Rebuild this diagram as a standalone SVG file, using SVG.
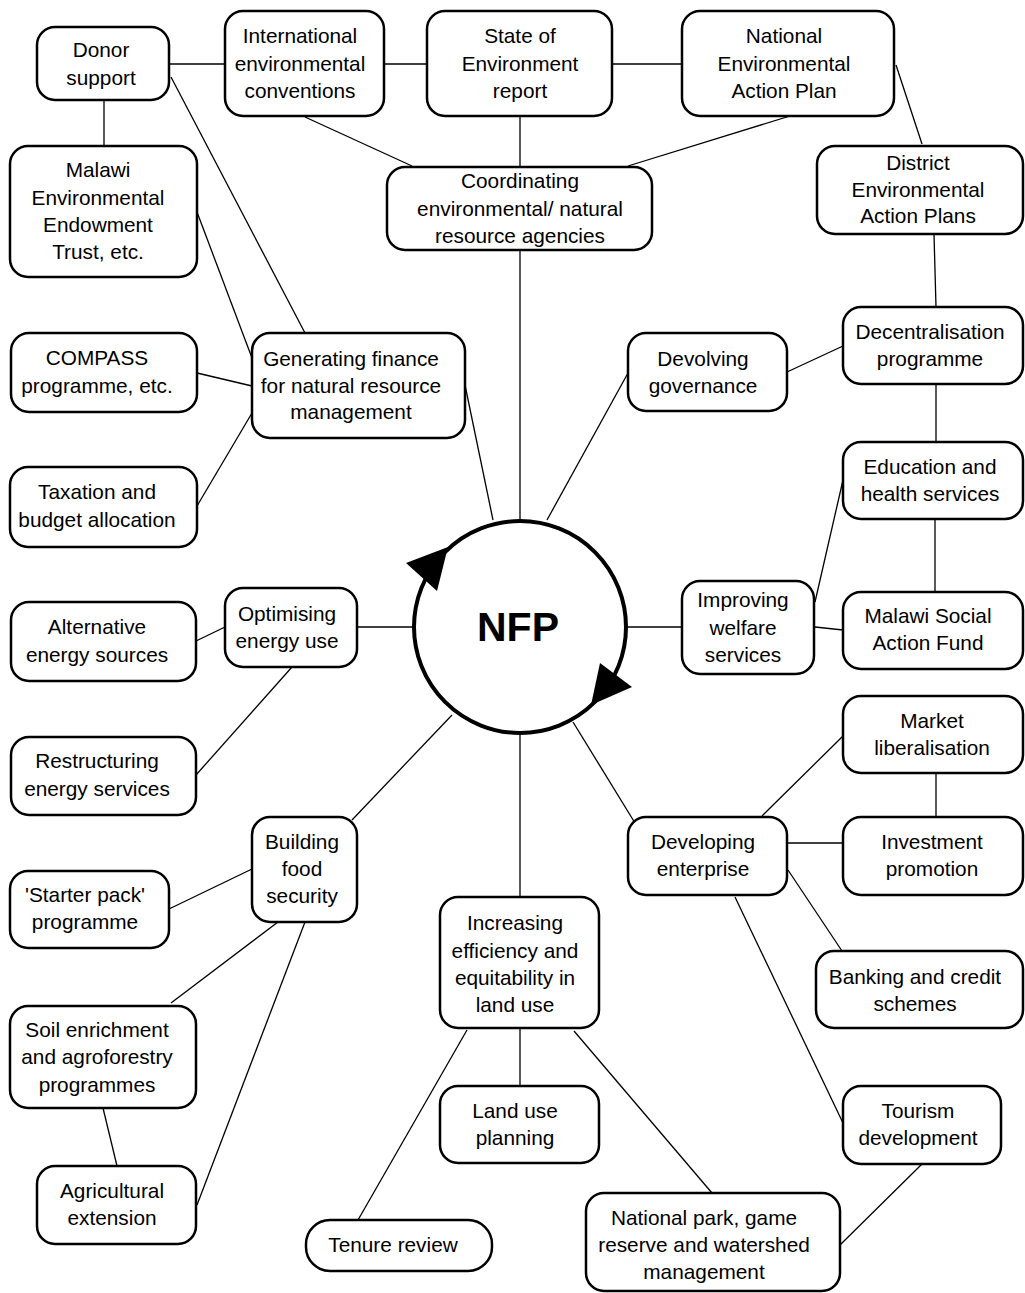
<svg xmlns="http://www.w3.org/2000/svg" width="1025" height="1293" viewBox="0 0 1025 1293">
<style>
.n rect{fill:#fff;stroke:#000;stroke-width:2.5}
.n text,.t{font-family:"Liberation Sans",Arial,sans-serif;font-size:20.8px;text-anchor:middle;fill:#000}
#connectors line{stroke:#000;stroke-width:1.3}
</style>
<rect width="1025" height="1293" fill="#fff"/>
<g id="connectors">
<line x1="169" y1="64" x2="225" y2="64"/>
<line x1="384" y1="64" x2="427" y2="64"/>
<line x1="612" y1="64" x2="682" y2="64"/>
<line x1="104" y1="100" x2="104" y2="146"/>
<line x1="305" y1="117" x2="412" y2="166"/>
<line x1="520" y1="116" x2="520" y2="167"/>
<line x1="790" y1="116" x2="628" y2="166"/>
<line x1="896" y1="65" x2="922" y2="144"/>
<line x1="934" y1="234" x2="936" y2="307"/>
<line x1="171" y1="77" x2="305" y2="333"/>
<line x1="197" y1="212" x2="252" y2="358"/>
<line x1="197" y1="373" x2="252" y2="386"/>
<line x1="197" y1="506" x2="252" y2="413"/>
<line x1="465" y1="385" x2="493" y2="520"/>
<line x1="520" y1="250" x2="520" y2="521"/>
<line x1="547" y1="520" x2="628" y2="373"/>
<line x1="787" y1="372" x2="843" y2="346"/>
<line x1="936" y1="384" x2="936" y2="442"/>
<line x1="935" y1="519" x2="935" y2="592"/>
<line x1="815" y1="602" x2="843" y2="480"/>
<line x1="815" y1="627" x2="843" y2="630"/>
<line x1="627" y1="627" x2="682" y2="627"/>
<line x1="357" y1="627" x2="413" y2="627"/>
<line x1="196" y1="641" x2="225" y2="627"/>
<line x1="292" y1="667" x2="196" y2="775"/>
<line x1="452" y1="715" x2="352" y2="820"/>
<line x1="169" y1="909" x2="252" y2="869"/>
<line x1="278" y1="922" x2="171" y2="1003"/>
<line x1="305" y1="922" x2="197" y2="1205"/>
<line x1="103" y1="1108" x2="117" y2="1166"/>
<line x1="520" y1="733" x2="520" y2="897"/>
<line x1="520" y1="1028" x2="520" y2="1086"/>
<line x1="467" y1="1030" x2="358" y2="1220"/>
<line x1="574" y1="1031" x2="712" y2="1193"/>
<line x1="573" y1="722" x2="635" y2="823"/>
<line x1="762" y1="816" x2="843" y2="736"/>
<line x1="787" y1="843" x2="843" y2="843"/>
<line x1="936" y1="773" x2="936" y2="817"/>
<line x1="788" y1="870" x2="842" y2="951"/>
<line x1="735" y1="897" x2="843" y2="1123"/>
<line x1="922" y1="1164" x2="840" y2="1245"/>
</g>
<g id="nfp">
<circle cx="520" cy="627" r="106" fill="#fff" stroke="#000" stroke-width="4"/>
<polygon points="406,563 448,547 437,591" fill="#000"/>
<polygon points="632,687 600,663 591,705" fill="#000"/>
<text x="518" y="641" style="font-family:'Liberation Sans',Arial,sans-serif;font-size:41px;font-weight:bold;text-anchor:middle">NFP</text>
</g>
<g id="donor" class="n"><rect x="37" y="27" width="132" height="73" rx="18"/><text x="101" y="57">Donor</text><text x="101" y="85">support</text></g>
<g id="intl" class="n"><rect x="225" y="11" width="159" height="105" rx="18"/><text x="300" y="43">International</text><text x="300" y="71">environmental</text><text x="300" y="98">conventions</text></g>
<g id="state" class="n"><rect x="427" y="11" width="185" height="105" rx="18"/><text x="520" y="43">State of</text><text x="520" y="71">Environment</text><text x="520" y="98">report</text></g>
<g id="neap" class="n"><rect x="682" y="11" width="212" height="105" rx="18"/><text x="784" y="43">National</text><text x="784" y="71">Environmental</text><text x="784" y="98">Action Plan</text></g>
<g id="meet" class="n"><rect x="10" y="146" width="187" height="131" rx="18"/><text x="98" y="177">Malawi</text><text x="98" y="205">Environmental</text><text x="98" y="232">Endowment</text><text x="98" y="259">Trust, etc.</text></g>
<g id="coord" class="n"><rect x="387" y="167" width="265" height="83" rx="18"/><text x="520" y="188">Coordinating</text><text x="520" y="216">environmental/ natural</text><text x="520" y="243">resource agencies</text></g>
<g id="district" class="n"><rect x="817" y="146" width="206" height="88" rx="18"/><text x="918" y="170">District</text><text x="918" y="197">Environmental</text><text x="918" y="223">Action Plans</text></g>
<g id="decentral" class="n"><rect x="843" y="307" width="180" height="77" rx="18"/><text x="930" y="339">Decentralisation</text><text x="930" y="366">programme</text></g>
<g id="devolving" class="n"><rect x="628" y="333" width="159" height="78" rx="18"/><text x="703" y="366">Devolving</text><text x="703" y="393">governance</text></g>
<g id="generating" class="n"><rect x="252" y="333" width="213" height="105" rx="18"/><text x="351" y="366">Generating finance</text><text x="351" y="393">for natural resource</text><text x="351" y="419">management</text></g>
<g id="compass" class="n"><rect x="11" y="333" width="186" height="79" rx="18"/><text x="97" y="365">COMPASS</text><text x="97" y="393">programme, etc.</text></g>
<g id="taxation" class="n"><rect x="10" y="467" width="187" height="80" rx="18"/><text x="97" y="499">Taxation and</text><text x="97" y="527">budget allocation</text></g>
<g id="education" class="n"><rect x="843" y="442" width="180" height="77" rx="18"/><text x="930" y="474">Education and</text><text x="930" y="501">health services</text></g>
<g id="optimising" class="n"><rect x="225" y="588" width="132" height="79" rx="18"/><text x="287" y="621">Optimising</text><text x="287" y="648">energy use</text></g>
<g id="alternative" class="n"><rect x="11" y="602" width="185" height="79" rx="18"/><text x="97" y="634">Alternative</text><text x="97" y="662">energy sources</text></g>
<g id="improving" class="n"><rect x="682" y="581" width="132" height="93" rx="18"/><text x="743" y="607">Improving</text><text x="743" y="635">welfare</text><text x="743" y="662">services</text></g>
<g id="msaf" class="n"><rect x="843" y="592" width="180" height="77" rx="18"/><text x="928" y="623">Malawi Social</text><text x="928" y="650">Action Fund</text></g>
<g id="market" class="n"><rect x="843" y="696" width="180" height="77" rx="18"/><text x="932" y="728">Market</text><text x="932" y="755">liberalisation</text></g>
<g id="restructuring" class="n"><rect x="11" y="737" width="185" height="78" rx="18"/><text x="97" y="768">Restructuring</text><text x="97" y="796">energy services</text></g>
<g id="building" class="n"><rect x="252" y="817" width="105" height="105" rx="18"/><text x="302" y="849">Building</text><text x="302" y="876">food</text><text x="302" y="903">security</text></g>
<g id="developing" class="n"><rect x="628" y="817" width="159" height="78" rx="18"/><text x="703" y="849">Developing</text><text x="703" y="876">enterprise</text></g>
<g id="investment" class="n"><rect x="843" y="817" width="180" height="78" rx="18"/><text x="932" y="849">Investment</text><text x="932" y="876">promotion</text></g>
<g id="starter" class="n"><rect x="10" y="871" width="159" height="77" rx="18"/><text x="85" y="902">'Starter pack'</text><text x="85" y="929">programme</text></g>
<g id="increasing" class="n"><rect x="440" y="897" width="159" height="131" rx="18"/><text x="515" y="930">Increasing</text><text x="515" y="958">efficiency and</text><text x="515" y="985">equitability in</text><text x="515" y="1012">land use</text></g>
<g id="banking" class="n"><rect x="816" y="951" width="207" height="77" rx="18"/><text x="915" y="984">Banking and credit</text><text x="915" y="1011">schemes</text></g>
<g id="soil" class="n"><rect x="10" y="1006" width="186" height="102" rx="18"/><text x="97" y="1037">Soil enrichment</text><text x="97" y="1064">and agroforestry</text><text x="97" y="1092">programmes</text></g>
<g id="landuse" class="n"><rect x="440" y="1086" width="159" height="77" rx="18"/><text x="515" y="1118">Land use</text><text x="515" y="1145">planning</text></g>
<g id="tourism" class="n"><rect x="843" y="1086" width="158" height="78" rx="18"/><text x="918" y="1118">Tourism</text><text x="918" y="1145">development</text></g>
<g id="agricultural" class="n"><rect x="37" y="1166" width="159" height="78" rx="18"/><text x="112" y="1198">Agricultural</text><text x="112" y="1225">extension</text></g>
<g id="tenure" class="n"><rect x="306" y="1220" width="186" height="51" rx="24"/><text x="393" y="1252">Tenure review</text></g>
<g id="natpark" class="n"><rect x="586" y="1193" width="254" height="98" rx="18"/><text x="704" y="1225">National park, game</text><text x="704" y="1252">reserve and watershed</text><text x="704" y="1279">management</text></g>
</svg>
